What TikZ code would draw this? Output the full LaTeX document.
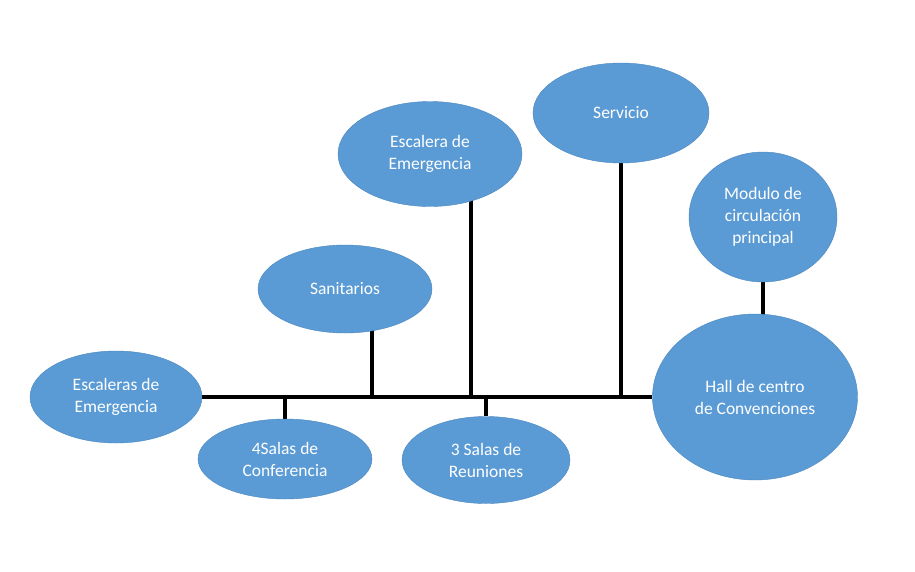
\documentclass[tikz,border=0pt]{standalone}
\usepackage{fontspec}
\setmainfont{Carlito}
\usetikzlibrary{shapes.geometric,backgrounds}
\definecolor{roomblue}{HTML}{5B9BD5}
\definecolor{roomedge}{HTML}{4A86BE}

\begin{document}
\begin{tikzpicture}[x=1pt, y=-1pt,
  room/.style={ellipse, draw=roomedge, fill=roomblue, inner sep=0pt, text=white, align=center, font=\fontsize{17.5}{22}\selectfont},
  link/.style={line width=3.2pt, black}]
  \useasboundingbox (0,0) rectangle (915,571);

  \node[room, minimum width=172, minimum height=92] (esc1) at (116,397) {Escaleras de\\Emergencia};
  \node[room, minimum width=174, minimum height=80] (sal4) at (285,459) {4Salas de\\Conferencia};
  \node[room, minimum width=174, minimum height=88] (san) at (345,289) {Sanitarios};
  \node[room, minimum width=184, minimum height=105] (esc2) at (430,154) {Escalera de\\Emergencia};
  \node[room, minimum width=168, minimum height=87] (reu3) at (486,460) {3 Salas de\\Reuniones};
  \node[room, minimum width=176, minimum height=100] (serv) at (621,113) {Servicio};
  \node[room, minimum width=148, minimum height=130] (mod) at (763,217) {Modulo de\\circulación\\principal};
  \node[room, minimum width=205, minimum height=166] (hall) at (755,397) {Hall de centro\\de Convenciones};

  \coordinate (jsan) at (372,397);
  \coordinate (jesc) at (471,397);

  \begin{scope}[on background layer]
    \fill[white] (0,0) rectangle (915,571);
    \draw[link] (esc1) -- (hall);
    \draw[link] (sal4) -- (sal4 |- esc1);
    \draw[link] (jsan) -- (jsan |- san);
    \draw[link] (jesc) -- (jesc |- esc2);
    \draw[link] (reu3) -- (reu3 |- esc1);
    \draw[link] (serv) -- (serv |- esc1);
    \draw[link] (mod) -- (mod |- hall);
  \end{scope}
\end{tikzpicture}
\end{document}
